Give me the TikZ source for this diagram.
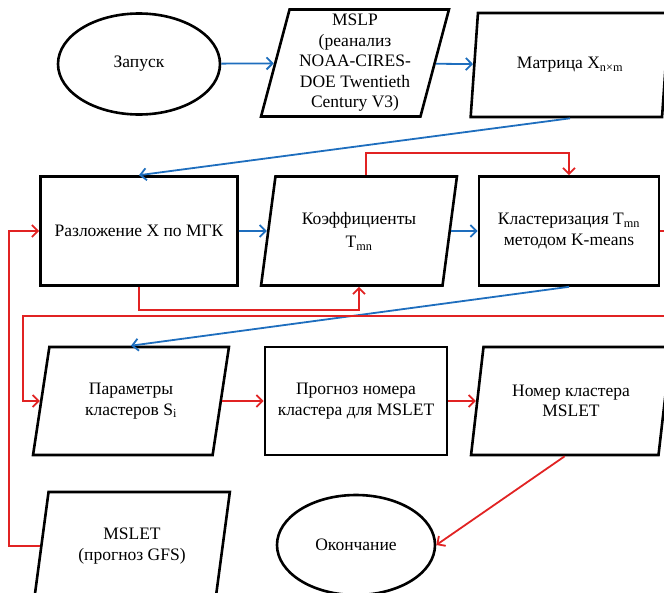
\documentclass[tikz,border=0pt]{standalone}
\usepackage{fontspec}
\setmainfont{Liberation Serif}
\usetikzlibrary{shapes.geometric,arrows.meta}
\definecolor{flowblue}{RGB}{30,110,190}
\definecolor{flowred}{RGB}{225,35,35}

\begin{document}
\begin{tikzpicture}[x=1pt,y=-1pt,
    box/.style={draw,line width=2.6pt,align=center,inner sep=1pt,
      font=\fontsize{17.5}{20.5}\selectfont},
    term/.style={box,ellipse},
    proc/.style={box,rectangle},
    data/.style={box,trapezium,trapezium left angle=76,
      trapezium right angle=104,trapezium stretches=true},
    flow/.style={line width=1.8pt,-{Straight Barb[length=6pt,width=12pt]}}]
      \useasboundingbox (0,0) rectangle (664,592);
      \draw
        (139,64) node[term,minimum width=162,minimum height=101] (start){Запуск}
        (355,63) node[data,minimum width=188,minimum height=107] (mslp){MSLP\\(реанализ\\NOAA-CIRES-\\DOE Twentieth\\Century V3)}
        (570,65) node[data,minimum width=199,minimum height=104] (mat){Матрица X\textsubscript{n×m}}
        (139,231) node[proc,minimum width=197,minimum height=109] (pca){Разложение X по МГК}
        (359,231) node[data,minimum width=196,minimum height=109] (coef){Коэффициенты\\[3pt]T\textsubscript{mn}}
        (569,231) node[proc,minimum width=180,minimum height=109] (clust){Кластеризация T\textsubscript{mn}\\методом K-means}
        (131,401) node[data,minimum width=196,minimum height=108] (par){Параметры\\кластеров S\textsubscript{i}}
        (356,401) node[proc,minimum width=182,minimum height=108] (fore){Прогноз номера\\кластера для MSLET}
        (571,401) node[data,minimum width=200,minimum height=108] (num){Номер кластера\\MSLET}
        (132,546) node[data,minimum width=196,minimum height=108] (mslet){MSLET\\(прогноз GFS)}
        (356,545) node[term,minimum width=158,minimum height=100] (finish){Окончание};
      \coordinate (loopR) at (668,316);
      \coordinate (loopL) at (23,316);
      \coordinate (feedL) at (9,546);
      \begin{scope}[flow,flowblue]
        \draw (start) to (mslp);
        \draw (mslp) to (mat);
        \draw (mat.south) to (pca.north);
        \draw (pca) to (coef);
        \draw (coef) to (clust);
        \draw (clust.south) to (par.north);
      \end{scope}
      \begin{scope}[flow,flowred]
        \draw (coef.top side) -- ++(0,-22) -| (clust);
        \draw (pca.south) -- ++(0,23) -| (coef.south);
        \draw (clust.east) -| (loopR) -- (loopL) |- (par);
        \draw (mslet.left side) -- (feedL) |- (pca);
        \draw (par) to (fore);
        \draw (fore) to (num);
        \draw (num.bottom side) to (finish.east);
      \end{scope}
    \end{tikzpicture}
\end{document}
